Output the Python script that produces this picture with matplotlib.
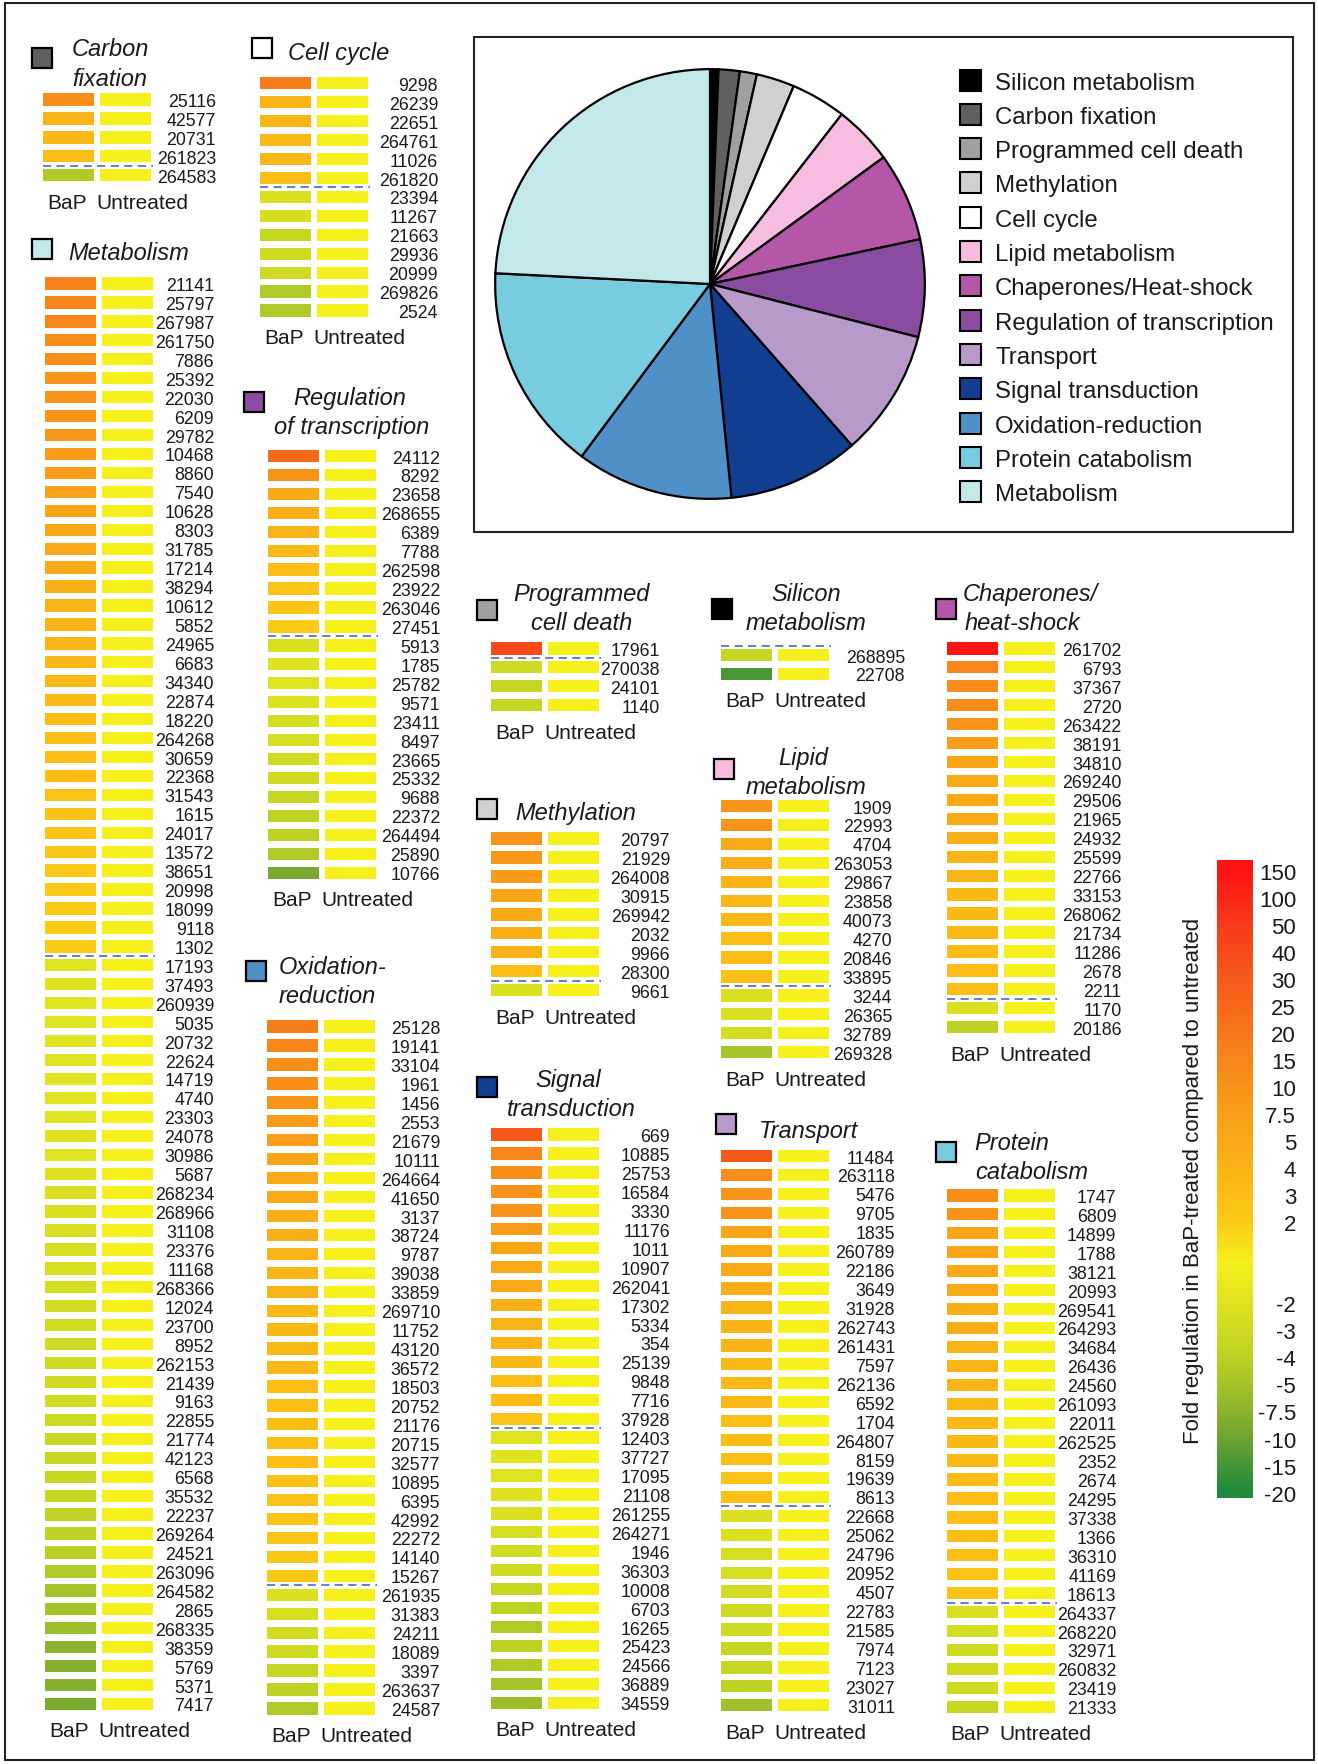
import numpy as np
import matplotlib
matplotlib.use('Agg')
import matplotlib.pyplot as plt
from matplotlib.colors import LinearSegmentedColormap, Normalize
from matplotlib.patches import Rectangle

plt.rcParams['font.family'] = ['Liberation Sans', 'DejaVu Sans']

W, H = 1318, 1765

# ---- colour scale (fold regulation, in order down the bar) ----
scale_ticks = [150, 100, 50, 40, 30, 25, 20, 15, 10, 7.5, 5, 4, 3, 2,
               -2, -3, -4, -5, -7.5, -10, -15, -20]
scale_labels = ['150', '100', '50', '40', '30', '25', '20', '15', '10', '7.5', '5', '4', '3', '2',
                '-2', '-3', '-4', '-5', '-7.5', '-10', '-15', '-20']
scale_pos = list(range(14)) + list(range(16, 24))

# ---- pie ----
pie_labels = ['Silicon metabolism', 'Carbon fixation', 'Programmed cell death', 'Methylation',
              'Cell cycle', 'Lipid metabolism', 'Chaperones/Heat-shock',
              'Regulation of transcription', 'Transport', 'Signal transduction',
              'Oxidation-reduction', 'Protein catabolism', 'Metabolism']
pie_counts = [2, 5, 4, 9, 13, 14, 21, 23, 30, 31, 37, 49, 76]
pie_colors = ['#000000', '#606060', '#a0a0a0', '#d0d0d0', '#ffffff', '#f7bde0', '#b557a8',
              '#8a4ca0', '#b89aca', '#123e92', '#5090c8', '#78cce0', '#c3e8ea']

# ---- gene blocks: protein ids and BaP fold change ----
carbon_ids = ['25116', '42577', '20731', '261823', '264583']
carbon_fold = [12, 4, 3.5, 3, -4.5]

cell_ids = ['9298', '26239', '22651', '264761', '11026', '261820', '23394', '11267', '21663',
            '29936', '20999', '269826', '2524']
cell_fold = [18, 4, 4, 3.5, 3.5, 3, -2.3, -2.5, -3.5, -3, -3, -4.5, -4.5]

metab_ids = ['21141', '25797', '267987', '261750', '7886', '25392', '22030', '6209', '29782',
             '10468', '8860', '7540', '10628', '8303', '31785', '17214', '38294', '10612',
             '5852', '24965', '6683', '34340', '22874', '18220', '264268', '30659', '22368',
             '31543', '1615', '24017', '13572', '38651', '20998', '18099', '9118', '1302',
             '17193', '37493', '260939', '5035', '20732', '22624', '14719', '4740', '23303',
             '24078', '30986', '5687', '268234', '268966', '31108', '23376', '11168', '268366',
             '12024', '23700', '8952', '262153', '21439', '9163', '22855', '21774', '42123',
             '6568', '35532', '22237', '269264', '24521', '263096', '264582', '2865', '268335',
             '38359', '5769', '5371', '7417']
metab_fold = [16, 15, 15, 13, 12, 10, 10, 10, 9, 8, 7.5, 7, 6, 5, 5, 5,
              4.5, 4, 4, 4, 3.5, 3.5, 3.5, 3, 3, 3, 3, 2.8, 2.6, 2.5, 2.4, 2.3, 2.2, 2.1, 2.1, 2,
              -2, -2, -2, -2, -2, -2, -2, -2, -2, -2, -2, -2.1,
              -2.2, -2.3, -2.4, -2.5, -2.6, -2.7, -2.8, -2.9,
              -3, -3, -3, -3, -3.2, -3.3, -3.4, -3.5, -3.6, -3.8,
              -4, -4.2, -4.5, -5, -5, -6, -7.5, -8, -8, -9]

reg_ids = ['24112', '8292', '23658', '268655', '6389', '7788', '262598', '23922', '263046',
           '27451', '5913', '1785', '25782', '9571', '23411', '8497', '23665', '25332', '9688',
           '22372', '264494', '25890', '10766']
reg_fold = [25, 10, 5, 4.5, 4, 3.5, 3, 2.5, 2.5, 2.2,
            -2.2, -2, -2, -2.1, -2.5, -2.6, -3, -3, -3.5, -4, -4, -4.5, -9]

oxid_ids = ['25128', '19141', '33104', '1961', '1456', '2553', '21679', '10111', '264664',
            '41650', '3137', '38724', '9787', '39038', '33859', '269710', '11752', '43120',
            '36572', '18503', '20752', '21176', '20715', '32577', '10895', '6395', '42992',
            '22272', '14140', '15267', '261935', '31383', '24211', '18089', '3397', '263637',
            '24587']
oxid_fold = [18, 15, 12, 12, 10, 8, 7.5, 6, 5, 5, 4.5, 4.5, 4, 4, 4, 3.5, 3.5, 3.5, 3.5,
             3, 3, 3, 3, 3, 2.8, 2.8, 2.6, 2.5, 2.4, 2.3,
             -2.2, -2.5, -2.8, -3, -3.5, -4, -4.5]

pcd_ids = ['17961', '270038', '24101', '1140']
pcd_fold = [40, -3, -3.5, -3.5]

sil_ids = ['268895', '22708']
sil_fold = [-3.5, -15]

chap_ids = ['261702', '6793', '37367', '2720', '263422', '38191', '34810', '269240', '29506',
            '21965', '24932', '25599', '22766', '33153', '268062', '21734', '11286', '2678',
            '2211', '1170', '20186']
chap_fold = [150, 15, 12, 12, 10, 8, 6, 5, 5, 5, 4.5, 4, 4, 3.5, 3.5, 3.5, 3, 3, 3, -2.2, -4]

meth_ids = ['20797', '21929', '264008', '30915', '269942', '2032', '9966', '28300', '9661']
meth_fold = [10, 9, 8, 6, 5, 4.5, 4, 3, -2.2]

lipid_ids = ['1909', '22993', '4704', '263053', '29867', '23858', '40073', '4270', '20846',
             '33895', '3244', '26365', '32789', '269328']
lipid_fold = [10, 10, 5, 4.5, 4, 3.5, 3.5, 3, 3, 2.8, -2.2, -2.3, -2.5, -5]

sig_ids = ['669', '10885', '25753', '16584', '3330', '11176', '1011', '10907', '262041',
           '17302', '5334', '354', '25139', '9848', '7716', '37928', '12403', '37727', '17095',
           '21108', '261255', '264271', '1946', '36303', '10008', '6703', '16265', '25423',
           '24566', '36889', '34559']
sig_fold = [30, 15, 12, 10, 10, 8, 6, 5, 5, 4.5, 4, 4, 3.5, 3, 3, 2.5,
            -2, -2, -2, -2.1, -2.2, -2.5, -2.8, -3, -3.5, -4, -4.5, -4, -4.5, -5, -6]

trans_ids = ['11484', '263118', '5476', '9705', '1835', '260789', '22186', '3649', '31928',
             '262743', '261431', '7597', '262136', '6592', '1704', '264807', '8159', '19639',
             '8613', '22668', '25062', '24796', '20952', '4507', '22783', '21585', '7974',
             '7123', '23027', '31011']
trans_fold = [30, 12, 10, 10, 6, 5, 5, 4.5, 4, 4, 4, 3.5, 3.5, 3.5, 3, 3, 3, 2.8, 2.8,
              -2.2, -2.2, -2.5, -2.5, -2.8, -3, -3, -3.5, -3.5, -4, -5.5]

prot_ids = ['1747', '6809', '14899', '1788', '38121', '20993', '269541', '264293', '34684',
            '26436', '24560', '261093', '22011', '262525', '2352', '2674', '24295', '37338',
            '1366', '36310', '41169', '18613', '264337', '268220', '32971', '260832', '23419',
            '21333']
prot_fold = [12, 10, 6, 6, 5, 5, 4.5, 4.5, 4, 4, 4, 3.5, 3.5, 3.5, 3.5, 3, 3, 3, 3, 3, 2.8, 2.6,
             -2.2, -2.5, -3, -3, -3, -3.5]

# colormap defined on the position index of the colour bar
cb_top, cb_bot = -0.4, 23.2
stops = [(0, '#ff1414'), (2, '#f83c1a'), (4, '#f65a1a'), (6, '#f7781a'), (8, '#f8941a'),
         (10, '#f8aa18'), (12, '#fabe16'), (13, '#fbcc16'), (14.5, '#f6f01c'), (16, '#dfe320'),
         (18, '#bed224'), (19, '#a8c42a'), (20, '#8cb42e'), (21, '#70a432'), (23, '#1f8b3c')]
stops = [(cb_top, stops[0][1])] + stops + [(cb_bot, stops[-1][1])]
cmap = LinearSegmentedColormap.from_list(
    'fold', [((p - cb_top) / (cb_bot - cb_top), c) for p, c in stops])
norm = Normalize(cb_top, cb_bot)

_v = np.array(scale_ticks[:14] + [1] + scale_ticks[14:], dtype=float)
_p = np.array(scale_pos[:14] + [14.5] + scale_pos[14:], dtype=float)
_order = np.argsort(_v)


def fold_color(folds):
    idx = np.interp(np.asarray(folds, dtype=float), _v[_order], _p[_order])
    return cmap(norm(idx))


PITCH, BAR_W, BAR_H, GAP = 18.94, 51, 12.3, 6
TXT = '#1a1a1a'


def draw_block(ax, ids, folds, x0, y0, id_dx, marker_xy, color, titles):
    rows = y0 + PITCH * np.arange(len(ids))
    ax.barh(rows, BAR_W, left=x0, height=BAR_H, color=fold_color(folds))
    ax.barh(rows, BAR_W, left=x0 + BAR_W + GAP, height=BAR_H,
            color=fold_color(np.ones(len(ids))))
    for r, t in zip(rows, ids):
        ax.text(x0 + id_dx, r, t, ha='right', va='center_baseline', fontsize=12.8, color=TXT)
    n_up = int(np.sum(np.asarray(folds) > 0))
    yd = y0 + PITCH * (n_up - 0.5)
    ax.plot([x0, x0 + 2 * BAR_W + GAP + 2], [yd, yd], color='#5577bb', lw=1.3,
            ls=(0, (4.5, 3)))
    ylab = rows[-1] + 25
    ax.text(x0 + 4, ylab, 'BaP', ha='left', va='center_baseline', fontsize=15, color=TXT)
    ax.text(x0 + BAR_W + GAP - 4, ylab, 'Untreated', ha='left', va='center_baseline',
            fontsize=15, color=TXT)
    ax.add_patch(Rectangle(marker_xy, 20, 20, facecolor=color, edgecolor='black', lw=1.6))
    for (tx, ty, ha, s) in titles:
        ax.text(tx, ty, s, ha=ha, va='center_baseline', fontsize=17, style='italic', color=TXT)


fig = plt.figure(figsize=(W / 100, H / 100), dpi=100)
ax = fig.add_axes([0, 0, 1, 1])
ax.set_xlim(0, W)
ax.set_ylim(H, 0)
ax.axis('off')

col = dict(zip(pie_labels, pie_colors))

draw_block(ax, carbon_ids, carbon_fold, 43, 100.5, 173, (32, 49), col['Carbon fixation'],
           [(110, 47, 'center', 'Carbon'), (110, 77, 'center', 'fixation')])
draw_block(ax, metab_ids, metab_fold, 45, 284.5, 169, (32, 240), col['Metabolism'],
           [(68, 251, 'left', 'Metabolism')])
draw_block(ax, cell_ids, cell_fold, 260, 84.3, 178, (252, 39), col['Cell cycle'],
           [(288, 51, 'left', 'Cell cycle')])
draw_block(ax, reg_ids, reg_fold, 268, 457, 172, (244, 393), col['Regulation of transcription'],
           [(350, 396, 'center', 'Regulation'), (352, 425, 'center', 'of transcription')])
draw_block(ax, oxid_ids, oxid_fold, 267, 1027.6, 173, (246, 962), col['Oxidation-reduction'],
           [(279, 965, 'left', 'Oxidation-'), (279, 994, 'left', 'reduction')])
draw_block(ax, pcd_ids, pcd_fold, 491, 649.4, 169, (477, 601), col['Programmed cell death'],
           [(581, 592, 'center', 'Programmed'), (582, 621, 'center', 'cell death')])
draw_block(ax, sil_ids, sil_fold, 721, 656, 184, (712, 600), col['Silicon metabolism'],
           [(806, 592, 'center', 'Silicon'), (806, 621, 'center', 'metabolism')])
draw_block(ax, chap_ids, chap_fold, 946.5, 649.4, 175, (936, 600), col['Chaperones/Heat-shock'],
           [(1030, 592, 'center', 'Chaperones/'), (1022, 621, 'center', 'heat-shock')])
draw_block(ax, meth_ids, meth_fold, 491, 839.6, 179, (477, 800), col['Methylation'],
           [(515, 811, 'left', 'Methylation')])
draw_block(ax, lipid_ids, lipid_fold, 721, 807, 171, (714, 760), col['Lipid metabolism'],
           [(803, 756, 'center', 'Lipid'), (806, 785, 'center', 'metabolism')])
draw_block(ax, sig_ids, sig_fold, 491, 1135.6, 179, (477, 1078), col['Signal transduction'],
           [(568, 1078, 'center', 'Signal'), (571, 1107, 'center', 'transduction')])
draw_block(ax, trans_ids, trans_fold, 721, 1157, 174, (716, 1115), col['Transport'],
           [(759, 1129, 'left', 'Transport')])
draw_block(ax, prot_ids, prot_fold, 946.5, 1196.4, 170, (936, 1143), col['Protein catabolism'],
           [(1012, 1141, 'center', 'Protein'), (1032, 1170, 'center', 'catabolism')])

# pie panel box and legend
ax.add_patch(Rectangle((474, 38), 819, 495, facecolor='none', edgecolor='#222222', lw=1.5))
for i, (lab, c) in enumerate(zip(pie_labels, pie_colors)):
    y = 81 + i * 34.3
    ax.add_patch(Rectangle((960, y - 10.5), 21, 21, facecolor=c, edgecolor='black', lw=1.5))
    ax.text(995, y, lab, ha='left', va='center_baseline', fontsize=17.3, color=TXT)

# outer frame
ax.add_patch(Rectangle((4.5, 3.5), W - 9, H - 8, facecolor='none', edgecolor='#222222', lw=1.5))

# colour bar label
ax.text(1193, 1181, 'Fold regulation in BaP-treated compared to untreated', rotation=90,
        ha='center', va='center', fontsize=16, color=TXT)

# pie chart
cx, cy, r = 710, 285, 217
pax = fig.add_axes([(cx - r) / W, 1 - (cy + r) / H, 2 * r / W, 2 * r / H])
pax.pie(pie_counts, colors=pie_colors, startangle=90, counterclock=False,
        wedgeprops=dict(edgecolor='black', linewidth=1.6))
pax.set_xlim(-1.01, 1.01)
pax.set_ylim(-1.01, 1.01)
pax.axis('off')

# colour bar
cax = fig.add_axes([1217 / W, 1 - 1499 / H, 36 / W, 638 / H])
grad = np.linspace(cb_top, cb_bot, 600)[:, None]
cax.imshow(grad, aspect='auto', cmap=cmap, norm=norm, origin='upper',
           extent=[0, 1, cb_bot, cb_top])
cax.set_ylim(cb_bot, cb_top)
cax.set_xticks([])
cax.set_yticks(scale_pos)
cax.set_yticklabels(scale_labels)
cax.yaxis.tick_right()
cax.tick_params(axis='y', length=0, pad=31, labelsize=16, labelcolor=TXT)
for lbl in cax.get_yticklabels():
    lbl.set_horizontalalignment('right')
for s in cax.spines.values():
    s.set_visible(False)

fig.savefig('out.png', dpi=100)
